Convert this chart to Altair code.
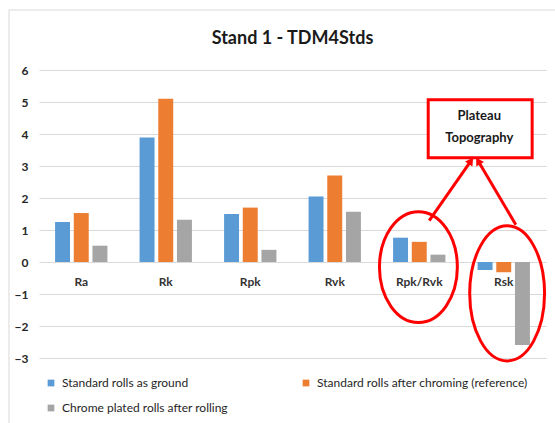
import math

import altair as alt
import pandas as pd

# ---- data ---------------------------------------------------------------
categories = ["Ra", "Rk", "Rpk", "Rvk", "Rpk/Rvk", "Rsk"]
series_names = [
    "Standard rolls as ground",
    "Standard rolls after chroming (reference)",
    "Chrome plated rolls after rolling",
]
as_ground = [1.25, 3.89, 1.50, 2.05, 0.76, -0.25]
after_chroming = [1.53, 5.10, 1.70, 2.70, 0.63, -0.32]
after_rolling = [0.51, 1.32, 0.38, 1.57, 0.23, -2.59]
series_colors = ["#5B9BD5", "#ED7D31", "#A5A5A5"]
y_ticks = [-3, -2, -1, 0, 1, 2, 3, 4, 5, 6]

# callout: x in category units (each band is 1 wide, 0..6), y in value units
callout_lines = ["Plateau", "Topography"]
callout_text_x = [5.21, 5.21]
callout_text_y = [4.55, 3.89]
box_x, box_x2, box_y, box_y2 = 4.606, 5.836, 3.26, 5.07
ellipse_cx = [4.49, 5.54]
ellipse_cy = [-0.16, -0.98]
ellipse_rx = [0.461, 0.443]
ellipse_ry = [1.73, 2.11]
arrow_x = [4.618, 5.643]
arrow_y = [1.29, 1.166]
arrow_tip_x = [5.138, 5.174]
arrow_tip_y = [3.26, 3.26]

# ---- layout -------------------------------------------------------------
PLOT_W, PLOT_H = 507, 288
BAND = PLOT_W / len(categories)
UNIT = PLOT_H / (y_ticks[-1] - y_ticks[0])
FONT = "Lato"
RED = "#FF0000"

bar_df = pd.DataFrame(
    [
        {"cat": c, "series": s, "value": v}
        for s, vals in zip(series_names, [as_ground, after_chroming, after_rolling])
        for c, v in zip(categories, vals)
    ]
)
cat_df = pd.DataFrame({"cat": categories, "zero": [0] * len(categories)})


def ellipse_path(rx, ry):
    k = 0.5523
    return (
        f"M {rx:.4f} 0 C {rx:.4f} {k*ry:.4f} {k*rx:.4f} {ry:.4f} 0 {ry:.4f} "
        f"C {-k*rx:.4f} {ry:.4f} {-rx:.4f} {k*ry:.4f} {-rx:.4f} 0 "
        f"C {-rx:.4f} {-k*ry:.4f} {-k*rx:.4f} {-ry:.4f} 0 {-ry:.4f} "
        f"C {k*rx:.4f} {-ry:.4f} {rx:.4f} {-k*ry:.4f} {rx:.4f} 0 Z"
    )


ell_rows = []
for cx, cy, rx, ry in zip(ellipse_cx, ellipse_cy, ellipse_rx, ellipse_ry):
    rx_px, ry_px = rx * BAND, ry * UNIT
    half = max(rx_px, ry_px)
    ell_rows.append(
        {
            "x": cx,
            "y": cy,
            "path": ellipse_path(rx_px / half, ry_px / half),
            "size": (2 * half) ** 2,
        }
    )
ell_df = pd.DataFrame(ell_rows)

HEAD_SIZE = 80
head_back = math.sqrt(HEAD_SIZE) / 2 * math.sqrt(3) / 2
arrow_rows = []
for x0, y0, x1, y1 in zip(arrow_x, arrow_y, arrow_tip_x, arrow_tip_y):
    dx_px, dy_px = (x1 - x0) * BAND, (y1 - y0) * UNIT
    length = math.hypot(dx_px, dy_px)
    hx = x1 - dx_px / length * head_back / BAND
    hy = y1 - dy_px / length * head_back / UNIT
    angle = math.degrees(math.atan2(dx_px, dy_px)) % 360
    arrow_rows.append({"x": x0, "y": y0, "x2": hx, "y2": hy, "angle": angle})
arrow_df = pd.DataFrame(arrow_rows)

box_df = pd.DataFrame([{"x": box_x, "x2": box_x2, "y": box_y, "y2": box_y2}])
text_df = pd.DataFrame({"x": callout_text_x, "y": callout_text_y, "t": callout_lines})

y_scale = alt.Scale(domain=[y_ticks[0], y_ticks[-1]], nice=False, zero=False)
band_scale = alt.Scale(domain=categories, paddingInner=0, paddingOuter=0)
ann_scale = alt.Scale(domain=[0, len(categories)], nice=False, zero=False)
y_axis = alt.Axis(
    values=y_ticks,
    title=None,
    domain=False,
    ticks=False,
    grid=True,
    gridColor="#D9D9D9",
    gridWidth=1,
    labelPadding=11,
    labelFont=FONT,
    labelFontSize=12,
    labelFontWeight="bold",
    labelColor="#262626",
)


def y_enc(field):
    return alt.Y(field, scale=y_scale, axis=y_axis)


# thin border around the whole chart area
frame = (
    alt.Chart(pd.DataFrame([{"k": 0}]))
    .mark_rect(fillOpacity=0, stroke="#D9D9D9", strokeWidth=1)
    .encode(
        x=alt.value(-30),
        x2=alt.value(PLOT_W + 30),
        y=alt.value(-60),
        y2=alt.value(PLOT_H + 80),
    )
)

bars = (
    alt.Chart(bar_df)
    .mark_bar()
    .encode(
        x=alt.X("cat:N", sort=categories, scale=band_scale, axis=None),
        xOffset=alt.XOffset(
            "series:N",
            sort=series_names,
            scale=alt.Scale(domain=series_names, paddingInner=0.2, paddingOuter=0.86),
        ),
        y=y_enc("value:Q"),
        color=alt.Color(
            "series:N",
            sort=series_names,
            scale=alt.Scale(domain=series_names, range=series_colors),
            legend=alt.Legend(
                title=None,
                orient="none",
                direction="horizontal",
                legendX=6,
                legendY=307,
                padding=0,
                columns=2,
                columnPadding=72,
                rowPadding=13,
                symbolType="square",
                symbolSize=45,
                symbolStrokeWidth=0,
                labelFont=FONT,
                labelFontSize=12,
                labelColor="#262626",
                labelOffset=5,
                labelLimit=400,
            ),
        ),
    )
)

cat_labels = (
    alt.Chart(cat_df)
    .mark_text(dy=20, font=FONT, fontSize=12, fontWeight="bold", color="#333333")
    .encode(
        x=alt.X("cat:N", sort=categories, scale=band_scale, axis=None),
        y=y_enc("zero:Q"),
        text="cat:N",
    )
)

ellipses = (
    alt.Chart(ell_df)
    .mark_point(filled=False, color=RED, strokeWidth=3, opacity=1)
    .encode(
        x=alt.X("x:Q", scale=ann_scale, axis=None),
        y=y_enc("y:Q"),
        shape=alt.Shape("path:N", scale=None),
        size=alt.Size("size:Q", scale=None),
    )
)

arrow_lines = (
    alt.Chart(arrow_df)
    .mark_rule(color=RED, strokeWidth=3)
    .encode(
        x=alt.X("x:Q", scale=ann_scale, axis=None),
        x2="x2:Q",
        y=y_enc("y:Q"),
        y2="y2:Q",
    )
)

arrow_heads = (
    alt.Chart(arrow_df)
    .mark_point(shape="triangle-up", filled=True, color=RED, size=HEAD_SIZE, opacity=1)
    .encode(
        x=alt.X("x2:Q", scale=ann_scale, axis=None),
        y=y_enc("y2:Q"),
        angle=alt.Angle("angle:Q", scale=None),
    )
)

box = (
    alt.Chart(box_df)
    .mark_rect(fill="white", stroke=RED, strokeWidth=3)
    .encode(
        x=alt.X("x:Q", scale=ann_scale, axis=None),
        x2="x2:Q",
        y=y_enc("y:Q"),
        y2="y2:Q",
    )
)

box_text = (
    alt.Chart(text_df)
    .mark_text(font=FONT, fontSize=13, fontWeight="bold", color="#1a1a1a")
    .encode(
        x=alt.X("x:Q", scale=ann_scale, axis=None),
        y=y_enc("y:Q"),
        text="t:N",
    )
)

chart = (
    alt.layer(frame, bars, cat_labels, ellipses, arrow_lines, arrow_heads, box, box_text)
    .resolve_scale(x="independent")
    .properties(
        width=PLOT_W,
        height=PLOT_H,
        autosize=alt.AutoSizeParams(type="none"),
        padding={"left": 39, "top": 70, "right": 9, "bottom": 65},
        background="white",
        title=alt.TitleParams(
            "Stand 1 - TDM4Stds",
            font=FONT,
            fontSize=18,
            fontWeight="bold",
            color="#1a1a1a",
            anchor="middle",
            baseline="alphabetic",
            offset=0,
            dy=52,
            frame="group",
        ),
    )
    .configure_view(stroke=None)
)

chart.save("out.html", embed_options={"renderer": "svg", "actions": False})
